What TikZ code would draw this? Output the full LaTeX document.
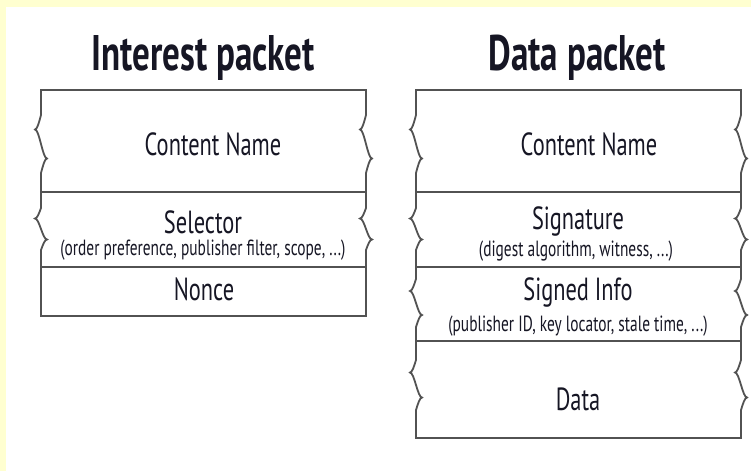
\documentclass[tikz,border=0pt]{standalone}
\usepackage{fontspec}
\setmainfont{PT Sans}[FakeStretch=0.7]
\definecolor{paper}{RGB}{255,255,208}
\definecolor{ink}{RGB}{22,22,36}
\tikzset{
	packetline/.style={draw=black!68, line width=1.8pt, line cap=rect},
	title/.style={font=\bfseries\fontsize{50}{50}\selectfont, text=ink, anchor=base, inner sep=0pt},
	field/.style={font=\fontsize{32}{32}\selectfont, text=ink, anchor=base, inner sep=0pt},
	note/.style={font=\fontsize{22}{22}\selectfont, text=ink, anchor=base, inner sep=0pt},
}
% side of one field: x, top, bottom, middle of the wave, half its height
\newcommand{\wavyside}[5]{%
	\draw[packetline] (#1,#2) -- (#1,{#4-#5}) sin ++(-6,{#5/2}) cos ++(6,{#5/2})
		sin ++(6,{#5/2}) cos ++(-6,{#5/2}) -- (#1,#3);
}
\begin{document}
\begin{tikzpicture}[x=1pt, y=-1pt]
	\useasboundingbox (0,0) rectangle (751,471);
	\fill[paper] (0,0) rectangle (751,471);
	\fill[white] (6,7) rectangle (751,471);

	% interest packet
	\node[title] (interest) at (203,70) {Interest packet};
	\foreach \y in {90,192,267,316}
		\draw[packetline] (41,\y) -- (366,\y);
	\foreach \x in {41,366} {
		\wavyside{\x}{90}{192}{144}{29}
		\wavyside{\x}{192}{267}{229}{21}
		\draw[packetline] (\x,267) -- (\x,316);
	}
	\node[field] (iname) at (213,155) {Content Name};
	\node[field] (selector) at (203,233) {Selector};
	\node[note] (selnote) at (203,255) {(order preference, publisher filter, scope, ...)};
	\node[field] (nonce) at (204,300) {Nonce};

	% data packet
	\node[title] (data) at (577,70) {Data packet};
	\foreach \y in {90,192,267,341,438}
		\draw[packetline] (416,\y) -- (741,\y);
	\foreach \x in {416,741} {
		\wavyside{\x}{90}{192}{144}{29}
		\wavyside{\x}{192}{267}{229}{21}
		\wavyside{\x}{267}{341}{303}{24}
		\wavyside{\x}{341}{438}{385}{25}
	}
	\node[field] (dname) at (589,155) {Content Name};
	\node[field] (signature) at (578,229) {Signature};
	\node[note] (signote) at (576,256) {(digest algorithm, witness, ...)};
	\node[field] (info) at (578,300) {Signed Info};
	\node[note] (infonote) at (578,331) {(publisher ID, key locator, stale time, ...)};
	\node[field] (payload) at (578,410) {Data};
\end{tikzpicture}
\end{document}
